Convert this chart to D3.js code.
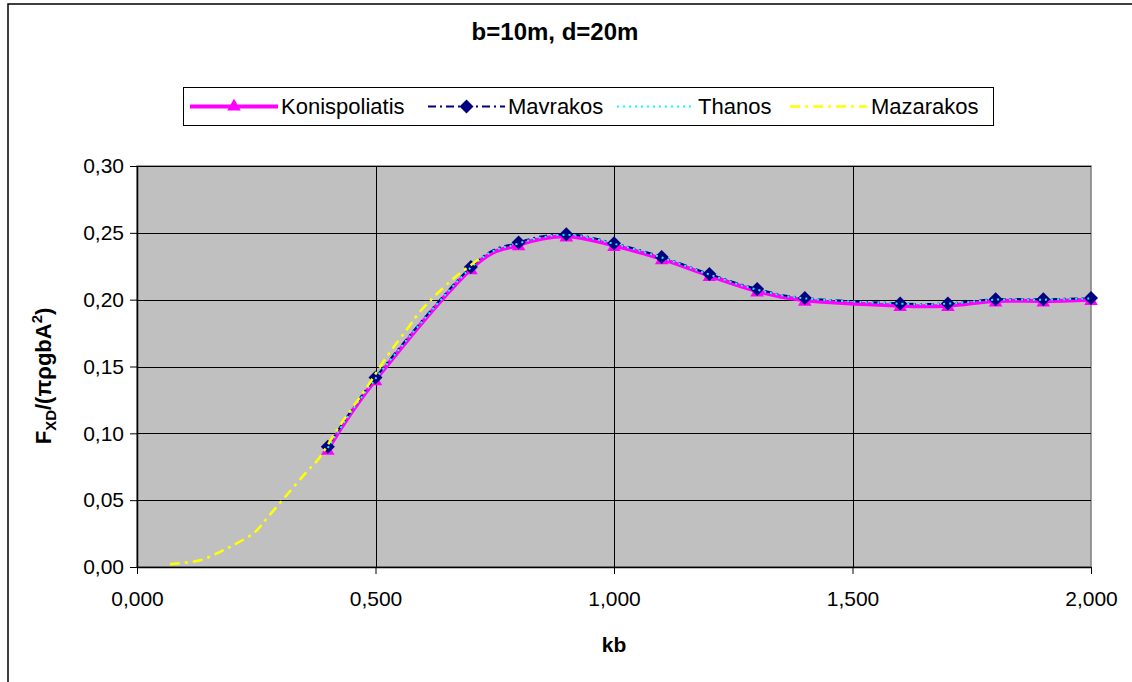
<!DOCTYPE html>
<html>
<head>
<meta charset="utf-8">
<script src="https://cdn.jsdelivr.net/npm/d3@7"></script>
<style>
  html, body { margin: 0; padding: 0; background: #fff; }
  svg { display: block; font-family: "Liberation Sans", Arial, sans-serif; }
</style>
</head>
<body>
<svg id="chart" width="1132" height="682"></svg>
<script>
// ---------- data ----------
const title = "b=10m, d=20m";
const seriesNames = ["Konispoliatis", "Mavrakos", "Thanos", "Mazarakos"];
const kb = [0.4, 0.5, 0.7, 0.8, 0.9, 1.0, 1.1, 1.2, 1.3, 1.4, 1.6, 1.7, 1.8, 1.9, 2.0];
const konispoliatis = [0.088, 0.140, 0.223, 0.241, 0.2475, 0.2405, 0.2305, 0.218, 0.2065, 0.1995, 0.1955, 0.1955, 0.199, 0.199, 0.200];
const mavrakos = [0.090, 0.1418, 0.2245, 0.2428, 0.249, 0.2422, 0.2319, 0.2192, 0.208, 0.2012, 0.1972, 0.1972, 0.2003, 0.2003, 0.2012];
const thanos = [0.089, 0.141, 0.224, 0.242, 0.2485, 0.2418, 0.2315, 0.2188, 0.2075, 0.201, 0.197, 0.197, 0.2, 0.2, 0.201];
const mazarakosKb = [0.069, 0.132, 0.174, 0.209, 0.247, 0.275, 0.314, 0.356, 0.384, 0.426, 0.478, 0.526, 0.565, 0.593, 0.625, 0.656, 0.677, 0.719];
const mazarakos = [0.002, 0.005, 0.0114, 0.0177, 0.026, 0.0376, 0.0539, 0.0713, 0.0825, 0.1062, 0.1324, 0.1586, 0.1773, 0.191, 0.203, 0.2134, 0.2197, 0.231];
const xTicks = [0, 0.5, 1.0, 1.5, 2.0];
const yTicks = [0, 0.05, 0.10, 0.15, 0.20, 0.25, 0.30];
const xTitle = "kb";

// ---------- layout ----------
const svg = d3.select("#chart");
const plot = { left: 137, top: 166, right: 1091, bottom: 567 };
const x = d3.scaleLinear().domain([0, 2]).range([plot.left, plot.right]);
const y = d3.scaleLinear().domain([0, 0.30]).range([plot.bottom, plot.top]);
const fmt = (d, n) => d.toFixed(n).replace(".", ",");

// outer chart border
svg.append("rect").attr("x", 8).attr("y", 4).attr("width", 1140).attr("height", 700)
  .attr("fill", "#fff").attr("stroke", "#000").attr("stroke-width", 1.5);

// plot background
svg.append("rect").attr("x", plot.left).attr("y", plot.top)
  .attr("width", plot.right - plot.left).attr("height", plot.bottom - plot.top)
  .attr("fill", "#C0C0C0").attr("stroke", "#808080").attr("stroke-width", 1.5);

// gridlines
svg.append("g").selectAll("line").data(yTicks.slice(1)).join("line")
  .attr("x1", plot.left).attr("x2", plot.right)
  .attr("y1", d => Math.round(y(d)) + 0.5).attr("y2", d => Math.round(y(d)) + 0.5)
  .attr("stroke", "#000").attr("stroke-width", 1);
svg.append("g").selectAll("line").data(xTicks.slice(1, -1)).join("line")
  .attr("y1", plot.top).attr("y2", plot.bottom)
  .attr("x1", d => Math.round(x(d)) + 0.5).attr("x2", d => Math.round(x(d)) + 0.5)
  .attr("stroke", "#000").attr("stroke-width", 1);

// axes
const yAxis = d3.axisLeft(y).tickValues(yTicks).tickFormat(d => fmt(d, 2)).tickSizeInner(7).tickSizeOuter(0).tickPadding(6);
const xAxis = d3.axisBottom(x).tickValues(xTicks).tickFormat(d => fmt(d, 3)).tickSizeInner(7).tickSizeOuter(0).tickPadding(17);
const gy = svg.append("g").attr("transform", `translate(${plot.left},0)`).call(yAxis);
const gx = svg.append("g").attr("transform", `translate(0,${plot.bottom})`).call(xAxis);
[gx, gy].forEach(g => {
  g.selectAll("text").attr("font-size", 21).attr("fill", "#000").attr("font-family", "Liberation Sans, Arial, sans-serif");
  g.selectAll("line").attr("stroke", "#000");
  g.select(".domain").attr("stroke", "#000").attr("stroke-width", 1.5);
});

// ---------- series ----------
const curve = d3.curveCardinal.tension(0);
const line = d3.line().x(d => x(d[0])).y(d => y(d[1])).curve(curve);
const zip = (xs, ys) => xs.map((v, i) => [v, ys[i]]);

const kData = zip(kb, konispoliatis);
const mData = zip(kb, mavrakos);
const tData = zip(kb, thanos);
const zData = zip(mazarakosKb, mazarakos);

const gS = svg.append("g");
const tri = d3.symbol().type(d3.symbolTriangle).size(80);
const dia = (s) => `M0,${-s}L${s},0L0,${s}L${-s},0Z`;

gS.append("path").datum(kData).attr("d", line).attr("fill", "none")
  .attr("stroke", "#FF00FF").attr("stroke-width", 4);
gS.append("g").selectAll("path").data(kData).join("path")
  .attr("transform", d => `translate(${x(d[0])},${y(d[1]) + 1.5})`)
  .attr("d", tri()).attr("fill", "#FF00FF");

gS.append("path").datum(mData).attr("d", line).attr("fill", "none")
  .attr("stroke", "#000080").attr("stroke-width", 2).attr("stroke-dasharray", "8,4,2,4");
gS.append("g").selectAll("path").data(mData).join("path")
  .attr("transform", d => `translate(${x(d[0])},${y(d[1])})`)
  .attr("d", dia(7)).attr("fill", "#000080");

gS.append("path").datum(tData).attr("d", line).attr("fill", "none")
  .attr("stroke", "#00FFFF").attr("stroke-width", 2).attr("stroke-dasharray", "2,4");

gS.append("path").datum(zData).attr("d", line).attr("fill", "none")
  .attr("stroke", "#FFFF00").attr("stroke-width", 2.5).attr("stroke-dasharray", "10,5,3,5");

// ---------- title ----------
svg.append("text").attr("x", 555).attr("y", 40).attr("text-anchor", "middle")
  .attr("font-size", 24).attr("font-weight", "bold").text(title);

// ---------- legend ----------
const lg = svg.append("g");
lg.append("rect").attr("x", 183.5).attr("y", 87.5).attr("width", 810).attr("height", 38)
  .attr("fill", "#fff").attr("stroke", "#000").attr("stroke-width", 1);
const ly = 106.5;
const items = [
  { name: seriesNames[0], x0: 190, x1: 278, tx: 281, color: "#FF00FF", w: 4, dash: null, marker: "tri" },
  { name: seriesNames[1], x0: 428, x1: 505, tx: 508, color: "#000080", w: 2, dash: "8,4,2,4", marker: "dia" },
  { name: seriesNames[2], x0: 617, x1: 694, tx: 698, color: "#00FFFF", w: 2, dash: "2,4", marker: null },
  { name: seriesNames[3], x0: 790, x1: 867, tx: 871, color: "#FFFF00", w: 2.5, dash: "10,5,3,5", marker: null }
];
items.forEach(it => {
  lg.append("line").attr("x1", it.x0).attr("x2", it.x1).attr("y1", ly).attr("y2", ly)
    .attr("stroke", it.color).attr("stroke-width", it.w).attr("stroke-dasharray", it.dash);
  const cx = (it.x0 + it.x1) / 2;
  if (it.marker === "tri") lg.append("path").attr("transform", `translate(${cx},${ly})`).attr("d", tri()).attr("fill", it.color);
  if (it.marker === "dia") lg.append("path").attr("transform", `translate(${cx},${ly})`).attr("d", dia(7)).attr("fill", it.color);
  lg.append("text").attr("x", it.tx).attr("y", ly + 7).attr("font-size", 22).text(it.name);
});

// ---------- axis titles ----------
svg.append("text").attr("x", 614).attr("y", 652).attr("text-anchor", "middle")
  .attr("font-size", 21).attr("font-weight", "bold").text(xTitle);

const yt = svg.append("text").attr("transform", "translate(51,376) rotate(-90)")
  .attr("text-anchor", "middle").attr("font-size", 22).attr("font-weight", "bold");
yt.append("tspan").text("F");
yt.append("tspan").attr("font-size", 15).attr("dy", 5).text("XD");
yt.append("tspan").attr("dy", -5).text("/(πρgbA");
yt.append("tspan").attr("font-size", 15).attr("dy", -9).text("2");
yt.append("tspan").attr("dy", 9).text(")");
</script>
</body>
</html>
